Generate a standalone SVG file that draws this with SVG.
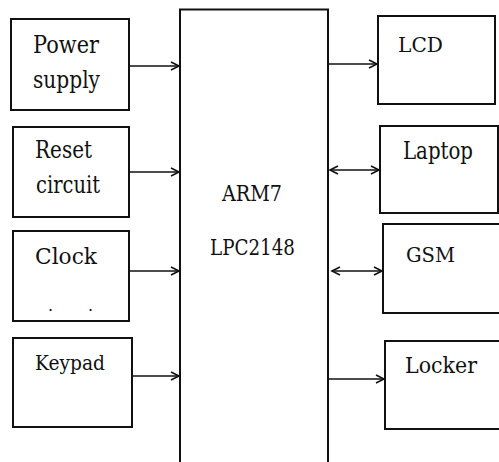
<svg xmlns="http://www.w3.org/2000/svg" width="499" height="462" viewBox="0 0 499 462">
<defs>
<style>
.box{fill:#fff;stroke:#111;stroke-width:2}
.ln{fill:none;stroke:#111;stroke-width:1.6}
text{font-family:'DejaVu Serif',serif;fill:#111}
</style>
<marker id="ah" markerUnits="userSpaceOnUse" markerWidth="12" markerHeight="12" refX="9" refY="5" orient="auto-start-reverse" viewBox="0 0 12 10">
<path d="M1,1 L9,5 L1,9" fill="none" stroke="#111" stroke-width="1.6"/>
</marker>
</defs>
<rect width="499" height="462" fill="#fff"/>
<g id="arm7">
<path class="box" d="M180,462 V9.5 H328 V462" fill="none"/>
<text x="222" y="201" font-size="22" textLength="60" lengthAdjust="spacingAndGlyphs">ARM7</text>
<text x="210" y="255" font-size="23" textLength="85" lengthAdjust="spacingAndGlyphs">LPC2148</text>
</g>
<g id="power">
<rect class="box" x="11" y="19" width="118" height="91"/>
<text x="33" y="53" font-size="25" textLength="66" lengthAdjust="spacingAndGlyphs">Power</text>
<text x="33" y="88" font-size="25" textLength="67" lengthAdjust="spacingAndGlyphs">supply</text>
</g>
<g id="reset">
<rect class="box" x="13" y="127" width="116" height="90"/>
<text x="35" y="158" font-size="25" textLength="57" lengthAdjust="spacingAndGlyphs">Reset</text>
<text x="36" y="193" font-size="25" textLength="64" lengthAdjust="spacingAndGlyphs">circuit</text>
</g>
<g id="clock">
<rect class="box" x="13" y="231" width="116" height="90"/>
<text x="35" y="264" font-size="23" textLength="62" lengthAdjust="spacingAndGlyphs">Clock</text>
<text x="48" y="311" font-size="16">.</text>
<text x="88" y="311" font-size="16">.</text>
</g>
<g id="keypad">
<rect class="box" x="13" y="338" width="119" height="89"/>
<text x="35" y="370" font-size="21" textLength="70" lengthAdjust="spacingAndGlyphs">Keypad</text>
</g>
<g id="lcd">
<rect class="box" x="378" y="16" width="117" height="88"/>
<text x="398" y="52" font-size="21" textLength="45" lengthAdjust="spacingAndGlyphs">LCD</text>
</g>
<g id="laptop">
<rect class="box" x="380" y="126" width="118" height="87"/>
<text x="403" y="159" font-size="24" textLength="70" lengthAdjust="spacingAndGlyphs">Laptop</text>
</g>
<g id="gsm">
<rect class="box" x="383" y="224" width="120" height="89"/>
<text x="406" y="262" font-size="21" textLength="49" lengthAdjust="spacingAndGlyphs">GSM</text>
</g>
<g id="locker">
<rect class="box" x="385" y="341" width="120" height="88"/>
<text x="405" y="373" font-size="23" textLength="72" lengthAdjust="spacingAndGlyphs">Locker</text>
</g>
<g id="connectors">
<line class="ln" x1="130" y1="66" x2="179" y2="66" marker-end="url(#ah)"/>
<line class="ln" x1="130" y1="172" x2="179" y2="172" marker-end="url(#ah)"/>
<line class="ln" x1="130" y1="271" x2="179" y2="271" marker-end="url(#ah)"/>
<line class="ln" x1="133" y1="376" x2="179" y2="376" marker-end="url(#ah)"/>
<line class="ln" x1="329" y1="64" x2="377" y2="64" marker-end="url(#ah)"/>
<line class="ln" x1="330" y1="170" x2="379" y2="170" marker-start="url(#ah)" marker-end="url(#ah)"/>
<line class="ln" x1="332" y1="271" x2="382" y2="271" marker-start="url(#ah)" marker-end="url(#ah)"/>
<line class="ln" x1="329" y1="379" x2="384" y2="379" marker-end="url(#ah)"/>
</g>
</svg>
